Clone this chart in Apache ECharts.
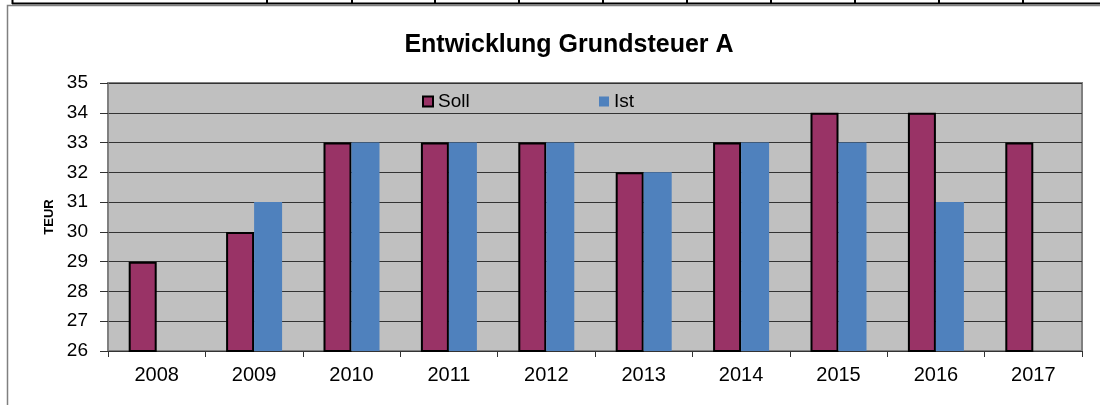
<!DOCTYPE html>
<html>
<head>
<meta charset="utf-8">
<script src="https://cdn.jsdelivr.net/npm/echarts@6/dist/echarts.min.js"></script>
<style>
    html, body { margin: 0; padding: 0; background: #fff; }
    #chart { width: 1100px; height: 405px; }
</style>
</head>
<body>
<div id="chart"></div>
<script>
// Daten
var jahre = ['2008', '2009', '2010', '2011', '2012', '2013', '2014', '2015', '2016', '2017'];
var soll = [29, 30, 33, 33, 33, 32, 33, 34, 34, 33];
var ist = [null, 31, 33, 33, 33, 32, 33, 33, 31, null];
var yTicks = [26, 27, 28, 29, 30, 31, 32, 33, 34, 35];

var schrift = '"Liberation Sans", Arial, sans-serif';

// Tabellenlinie oben (Rest der Excel-Tabelle)
var tabellenX = [12.5, 267, 352, 435, 519, 603, 687, 771, 855, 939, 1023];
var deko = [
    { type: 'line', shape: { x1: 12, y1: 3.5, x2: 1100, y2: 3.5 }, style: { stroke: '#000', lineWidth: 2 } },
    // Rahmen des Diagramms
    { type: 'polyline', shape: { points: [[7.5, 405], [7.5, 5.5], [1100, 5.5]] }, style: { stroke: '#808080', lineWidth: 1.5, fill: null } }
];
for (var i = 0; i < tabellenX.length; i++) {
    deko.push({ type: 'line', shape: { x1: tabellenX[i], y1: 0, x2: tabellenX[i], y2: 4 }, style: { stroke: '#000', lineWidth: 2 } });
}

var myChart = echarts.init(document.getElementById('chart'));
var option = {
    backgroundColor: '#fff',
    animation: false,
    title: {
        text: 'Entwicklung Grundsteuer A',
        left: 569,
        top: 33,
        padding: 0,
        textAlign: 'center',
        textStyle: { fontFamily: schrift, fontSize: 25, fontWeight: 'bold', color: '#000' }
    },
    graphic: deko,
    legend: [
        {
            data: [{ name: 'Soll', itemStyle: { color: '#993366', borderColor: '#000', borderWidth: 2 } }],
            left: 422, top: 92, padding: 0,
            icon: 'rect', itemWidth: 10, itemHeight: 10,
            textStyle: { fontFamily: schrift, fontSize: 19, color: '#000', padding: [0, 0, 0, 0] }
        },
        {
            data: [{ name: 'Ist', itemStyle: { color: '#4f81bd', borderWidth: 0 } }],
            left: 599, top: 92, padding: 0,
            icon: 'rect', itemWidth: 10, itemHeight: 10,
            textStyle: { fontFamily: schrift, fontSize: 19, color: '#000', padding: [0, 0, 0, 0] }
        }
    ],
    grid: {
        left: 108, right: 18, top: 83, bottom: 54,
        show: true,
        backgroundColor: '#c0c0c0',
        borderColor: '#808080',
        borderWidth: 2
    },
    xAxis: {
        type: 'category',
        data: jahre,
        axisLine: { show: true, lineStyle: { color: '#333', width: 1 } },
        axisTick: { show: true, length: 6, lineStyle: { color: '#333' } },
        axisLabel: { fontFamily: schrift, fontSize: 20, color: '#000', margin: 14 },
        splitLine: { show: false }
    },
    yAxis: {
        type: 'value',
        min: 26,
        max: 35,
        interval: 1,
        name: 'TEUR',
        nameLocation: 'middle',
        nameRotate: 90,
        nameGap: 51,
        nameTextStyle: { fontFamily: schrift, fontSize: 13, fontWeight: 'bold', color: '#000' },
        axisLine: { show: true, lineStyle: { color: '#808080', width: 1.5 } },
        axisTick: { show: true, inside: false, length: 8, lineStyle: { color: '#333' } },
        axisLabel: {
            fontFamily: schrift, fontSize: 19, color: '#000', margin: 20,
            formatter: function (v) { return yTicks.indexOf(v) >= 0 ? String(v) : ''; }
        },
        splitLine: { show: true, lineStyle: { color: '#333', width: 1 } }
    },
    series: [
        {
            name: 'Soll',
            type: 'bar',
            data: soll,
            barWidth: 28,
            barGap: '0%',
            itemStyle: { color: '#993366', borderColor: '#000', borderWidth: 2 }
        },
        {
            name: 'Ist',
            type: 'bar',
            data: ist,
            barWidth: 28,
            barGap: '0%',
            itemStyle: { color: '#4f81bd' }
        }
    ]
};
myChart.setOption(option);
</script>
</body>
</html>
